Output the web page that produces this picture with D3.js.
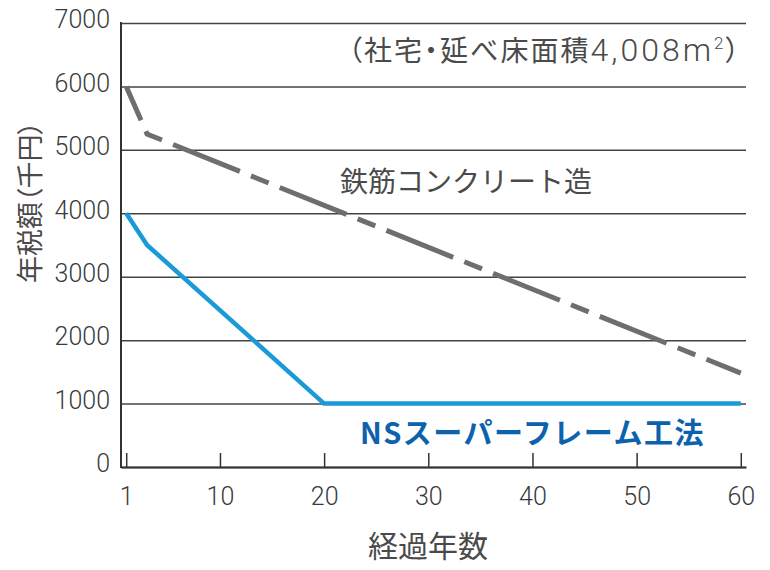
<!DOCTYPE html>
<html>
<head>
<meta charset="utf-8">
<script src="https://cdn.jsdelivr.net/npm/d3@7"></script>
<style>
  body { margin: 0; background: #fff; }
  svg { display: block; }
  .tick text { font-family: Roboto, "Liberation Sans", sans-serif; font-weight: 300; fill: #3a3a3a; }
  .jp { font-family: "Noto Sans CJK JP", sans-serif; fill: #4a4a4a; }
  .palt { font-feature-settings: "palt"; }
</style>
</head>
<body>
<script>
// 経過年数 (years) and tax per year (千円)
var rcYears = [1, 3, 60];
var rcValues = [6000, 5250, 1480];
var nsYears = [1, 3, 20, 60];
var nsValues = [4000, 3500, 1000, 1000];
var xTicks = [1, 10, 20, 30, 40, 50, 60];
var yTicks = [0, 1000, 2000, 3000, 4000, 5000, 6000, 7000];

var w = 770;
var h = 570;
var padL = 121, padR = 746, padT = 23, padB = 467;

var svg = d3.select("body")
  .append("svg")
  .attr("width", w)
  .attr("height", h);

var x = d3.scaleLinear().domain([0.5, 60.5]).range([padL, padR]);
var y = d3.scaleLinear().domain([0, 7000]).range([padB, padT]);

// y axis with grid lines
var yAxis = svg.append("g")
  .attr("transform", "translate(" + padL + ",0)")
  .call(d3.axisLeft(y).tickValues(yTicks).tickFormat(d3.format("d"))
    .tickSize(-(padR - padL)).tickPadding(11));
yAxis.select(".domain").remove();
yAxis.selectAll(".tick line")
  .attr("stroke", "#444")
  .attr("stroke-width", 1.5);
yAxis.selectAll(".tick text")
  .attr("font-size", "25px")
  .attr("dy", "0.19em");

// x axis, ticks pointing up
var xAxis = svg.append("g")
  .attr("transform", "translate(0," + padB + ")")
  .call(d3.axisBottom(x).tickValues(xTicks).tickSize(-14).tickSizeOuter(0).tickPadding(20));
xAxis.select(".domain")
  .attr("stroke", "#333")
  .attr("stroke-width", 2);
xAxis.selectAll(".tick line")
  .attr("stroke", "#333")
  .attr("stroke-width", 1.5);
xAxis.selectAll(".tick text")
  .attr("font-size", "25px");

// vertical axis line
svg.append("line")
  .attr("x1", padL).attr("x2", padL)
  .attr("y1", padT - 1).attr("y2", padB + 1)
  .attr("stroke", "#333")
  .attr("stroke-width", 2);

var line = d3.line()
  .x(function(d) { return x(d[0]); })
  .y(function(d) { return y(d[1]); });

var rc = rcYears.map(function(d, i) { return [d, rcValues[i]]; });
var ns = nsYears.map(function(d, i) { return [d, nsValues[i]]; });

svg.append("path")
  .datum(rc)
  .attr("d", line)
  .attr("fill", "none")
  .attr("stroke", "#6d6e71")
  .attr("stroke-width", 5)
  .attr("stroke-dasharray", "72,12,19,12")
  .attr("stroke-dashoffset", 35);

svg.append("path")
  .datum(ns)
  .attr("d", line)
  .attr("fill", "none")
  .attr("stroke", "#1b9ad8")
  .attr("stroke-width", 4.5)
  .attr("stroke-linejoin", "round");

// labels
var note = svg.append("text")
  .attr("class", "jp palt")
  .attr("x", 348)
  .attr("y", 61)
  .attr("font-size", "28px");
note.append("tspan")
  .attr("letter-spacing", "2px")
  .text("（社宅・延べ床面積");
note.append("tspan")
  .attr("font-family", "Roboto, sans-serif")
  .attr("font-weight", 300)
  .attr("font-size", "32px")
  .attr("letter-spacing", "3px")
  .text("4,008m");
note.append("tspan")
  .attr("font-family", "Roboto, sans-serif")
  .attr("font-weight", 300)
  .attr("font-size", "17px")
  .attr("dy", "-12")
  .text("2");
note.append("tspan")
  .attr("dx", "2")
  .attr("dy", "12")
  .text("）");

svg.append("text")
  .attr("class", "jp")
  .attr("x", 340)
  .attr("y", 192)
  .attr("font-size", "28px")
  .text("鉄筋コンクリート造");

svg.append("text")
  .attr("class", "jp")
  .attr("x", 360)
  .attr("y", 444)
  .attr("font-size", "29px")
  .attr("letter-spacing", "1.5px")
  .attr("font-weight", "bold")
  .style("fill", "#0d62ad")
  .text("NSスーパーフレーム工法");

svg.append("text")
  .attr("class", "jp")
  .attr("x", 428)
  .attr("y", 557)
  .attr("font-size", "30px")
  .attr("text-anchor", "middle")
  .text("経過年数");

svg.append("text")
  .attr("class", "jp palt")
  .attr("transform", "translate(40,202) rotate(-90)")
  .attr("font-size", "27px")
  .attr("text-anchor", "middle")
  .text("年税額（千円）");
</script>
</body>
</html>
